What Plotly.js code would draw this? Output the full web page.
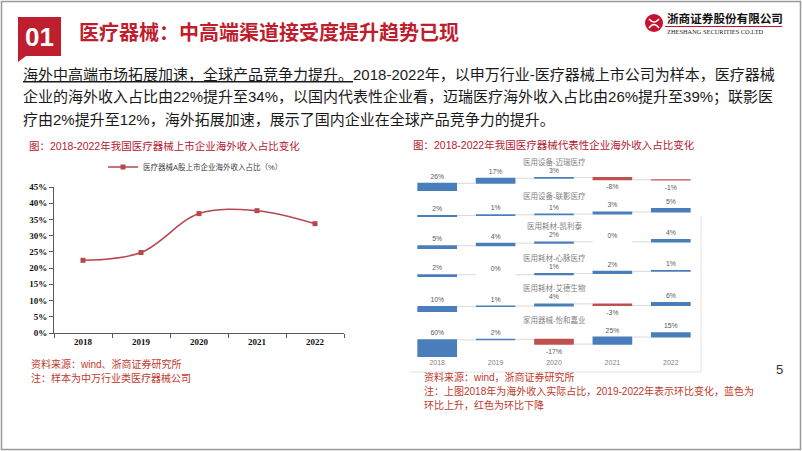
<!DOCTYPE html>
<html>
<head>
<meta charset="utf-8">
<script src="https://cdn.plot.ly/plotly-3.0.1.min.js"></script>
<style>
html,body{margin:0;padding:0;background:#fff;}
#chart{width:802px;height:451px;}
</style>
</head>
<body>
<div id="chart"></div>
<script>
// ---------- data ----------
const years = ['2018', '2019', '2020', '2021', '2022'];
const industryShare = [22.4, 24.8, 36.8, 37.7, 33.7];
const companyNames = ['医用设备-迈瑞医疗', '医用设备-联影医疗', '医用耗材-凯利泰', '医用耗材-心脉医疗', '医用耗材-艾德生物', '家用器械-怡和嘉业'];
const mindray = [26, 17, 3, -8, -1];
const united = [2, 1, 1, 3, 5];
const kailitai = [5, 4, 2, 0, 4];
const xinmai = [2, 0, 1, 2, 1];
const amoy = [10, 1, 4, -3, 6];
const yhjy = [60, 2, -17, 25, 15];
const yTickVals = [0, 5, 10, 15, 20, 25, 30, 35, 40, 45];
const yTickText = yTickVals.map(v => v + '%');

// ---------- helpers ----------
const W = 802, H = 451;
const px = v => v / W;
const py = v => 1 - v / H;
const SANS = '"Liberation Sans", "Noto Sans CJK SC", sans-serif';
const SERIF = '"Liberation Serif", "Noto Sans CJK SC", serif';
const RED_TXT = '#b3202f';
const BLUE = '#4a7ebb';
const BAR_RED = '#c0504d';

const companySeries = [mindray, united, kailitai, xinmai, amoy, yhjy];
// pixel domains (top, bottom) of each small-multiple row
const rowBox = [[177, 191], [208, 217], [239, 249], [270, 277], [302, 312], [332, 357]];
const titleY = [162, 196, 226, 258, 288, 320];

const traces = [];
traces.push({
  type: 'scatter', mode: 'lines+markers',
  x: years, y: industryShare,
  name: '医疗器械A股上市企业海外收入占比（%）',
  line: {shape: 'spline', smoothing: 1, color: '#b5474d', width: 1.6},
  marker: {symbol: 'square', size: 5, color: '#b5474d'},
  xaxis: 'x', yaxis: 'y', showlegend: true, hoverinfo: 'skip'
});

const layout = {
  width: W, height: H,
  margin: {l: 0, r: 0, t: 0, b: 0},
  paper_bgcolor: '#fff', plot_bgcolor: 'rgba(0,0,0,0)',
  font: {family: SANS},
  showlegend: true,
  waterfallgap: 0.32,
  legend: {
    x: px(103), y: py(167), xanchor: 'left', yanchor: 'middle',
    orientation: 'h', bgcolor: 'rgba(0,0,0,0)',
    font: {size: 7.5, color: '#404040', family: SANS}
  },
  xaxis: {
    domain: [px(54), px(344)], anchor: 'y', type: 'category',
    range: [-0.5, 4.5], tickson: 'boundaries', ticks: 'outside', ticklen: 4,
    tickcolor: '#595959', showline: true, linecolor: '#595959', linewidth: 1,
    showgrid: false, zeroline: false, fixedrange: true,
    tickfont: {family: SERIF, size: 9, color: '#111', weight: 'bold'}
  },
  yaxis: {
    domain: [py(333), py(187)], anchor: 'x', range: [0, 45],
    tickmode: 'array', tickvals: yTickVals, ticktext: yTickText,
    ticks: 'outside', ticklen: 4,
    tickcolor: '#595959', showline: true, linecolor: '#595959', linewidth: 1,
    showgrid: false, zeroline: false, fixedrange: true,
    tickfont: {family: SERIF, size: 9, color: '#111', weight: 'bold'}
  },
  xaxis2: {
    domain: [px(408), px(700)], anchor: 'y7', type: 'category',
    range: [-0.5, 4.5], showline: false, ticks: '', showgrid: false,
    zeroline: false, fixedrange: true,
    tickfont: {family: SANS, size: 7, color: '#7f7f7f'}
  },
  shapes: [], annotations: []
};

companySeries.forEach((vals, i) => {
  const ax = 'y' + (i + 2);
  let cum = 0, maxCum = 0;
  vals.forEach(v => { cum += v; maxCum = Math.max(maxCum, cum); });
  traces.push({
    type: 'waterfall', x: years, y: vals,
    measure: vals.map((v, j) => j === 0 ? 'absolute' : 'relative'),
    text: vals.map(v => v + '%'), textposition: 'outside',
    textfont: {size: 6.8, color: '#595959', family: SANS},
    cliponaxis: false,
    increasing: {marker: {color: BLUE}},
    decreasing: {marker: {color: BAR_RED}},
    totals: {marker: {color: BLUE}},
    connector: {line: {color: '#d9d9d9', width: 1}},
    xaxis: 'x2', yaxis: ax, showlegend: false, hoverinfo: 'skip'
  });
  layout['yaxis' + (i + 2)] = {
    domain: [py(rowBox[i][1]), py(rowBox[i][0])], anchor: 'x2',
    range: [0, maxCum * 1.03], visible: false, fixedrange: true
  };
  layout.annotations.push({
    xref: 'paper', yref: 'paper', x: px(554), y: py(titleY[i]),
    text: companyNames[i], showarrow: false, xanchor: 'center', yanchor: 'middle',
    font: {size: 7.5, color: '#7f7f7f', family: SANS}
  });
});

// ---------- slide decoration ----------
const S = layout.shapes, A = layout.annotations;
S.push({type: 'rect', xref: 'paper', yref: 'paper', x0: px(1.5), x1: px(800.5), y0: py(449.5), y1: py(1.5),
  line: {color: '#9a9a9a', width: 1.5}});
S.push({type: 'path', xref: 'paper', yref: 'paper',
  path: `M ${px(18)} ${py(17)} L ${px(61)} ${py(17)} L ${px(61)} ${py(56)} L ${px(26)} ${py(56)} L ${px(18)} ${py(62)} Z`,
  fillcolor: '#bf1e2e', line: {width: 0}});
// logo
S.push({type: 'circle', xref: 'paper', yref: 'paper', x0: px(645), x1: px(663), y0: py(32), y1: py(14),
  fillcolor: '#c8102e', line: {width: 0}});
S.push({type: 'path', xref: 'paper', yref: 'paper',
  path: `M ${px(649)} ${py(19)} Q ${px(654)} ${py(25)} ${px(659)} ${py(19)} M ${px(649)} ${py(28)} Q ${px(654)} ${py(21)} ${px(659)} ${py(28)}`,
  line: {color: '#fff', width: 1.6}});
S.push({type: 'line', xref: 'paper', yref: 'paper', x0: px(665), x1: px(782), y0: py(26.5), y1: py(26.5),
  line: {color: '#c8102e', width: 1}});
// faint frame of right chart
S.push({type: 'line', xref: 'paper', yref: 'paper', x0: px(701), x1: px(701), y0: py(372), y1: py(216),
  line: {color: '#e3e3e3', width: 1}});
S.push({type: 'line', xref: 'paper', yref: 'paper', x0: px(410), x1: px(701), y0: py(372), y1: py(372),
  line: {color: '#e3e3e3', width: 1}});

function note(x, y, text, size, color, opts) {
  A.push(Object.assign({
    xref: 'paper', yref: 'paper', x: px(x), y: py(y), text: text, showarrow: false,
    xanchor: 'left', yanchor: 'middle', font: {size: size, color: color, family: SANS}
  }, opts || {}));
}
note(39.5, 37, '<b>01</b>', 26, '#fff', {xanchor: 'center'});
note(77, 33, '<b>医疗器械：中高端渠道接受度提升趋势已现</b>', 20, '#bf1e2e');
note(665, 19, '<b>浙商证券股份有限公司</b>', 11.6, '#111');
note(665, 31.5, 'ZHESHANG SECURITIES CO.LTD', 6.4, '#222', {font: {size: 6.4, color: '#222', family: SERIF}});

note(21, 75, '<u>海外中高端市场拓展加速，全球产品竞争力提升。</u>2018-2022年，以申万行业-医疗器械上市公司为样本，医疗器械', 15, '#1a1a1a');
note(21, 97, '企业的海外收入占比由22%提升至34%，以国内代表性企业看，迈瑞医疗海外收入占比由26%提升至39%；联影医', 15, '#1a1a1a');
note(21, 119, '疗由2%提升至12%，海外拓展加速，展示了国内企业在全球产品竞争力的提升。', 15, '#1a1a1a');

note(27, 146, '图：2018-2022年我国医疗器械上市企业海外收入占比变化', 10.5, RED_TXT);
note(411, 145, '图：2018-2022年我国医疗器械代表性企业海外收入占比变化', 10.5, RED_TXT);

note(29, 364, '资料来源：wind、浙商证券研究所', 10, '#c0392b');
note(29, 378, '注：样本为中万行业类医疗器械公司', 10, '#c0392b');
note(422, 377, '资料来源：wind，浙商证券研究所', 10, '#c0392b');
note(422, 391, '注：上图2018年为海外收入实际占比，2019-2022年表示环比变化，蓝色为', 10, '#c0392b');
note(422, 405, '环比上升，红色为环比下降', 10, '#c0392b');
note(779, 369, '5', 13, '#333', {xanchor: 'center'});

Plotly.newPlot('chart', traces, layout, {staticPlot: true, displayModeBar: false});
</script>
</body>
</html>
